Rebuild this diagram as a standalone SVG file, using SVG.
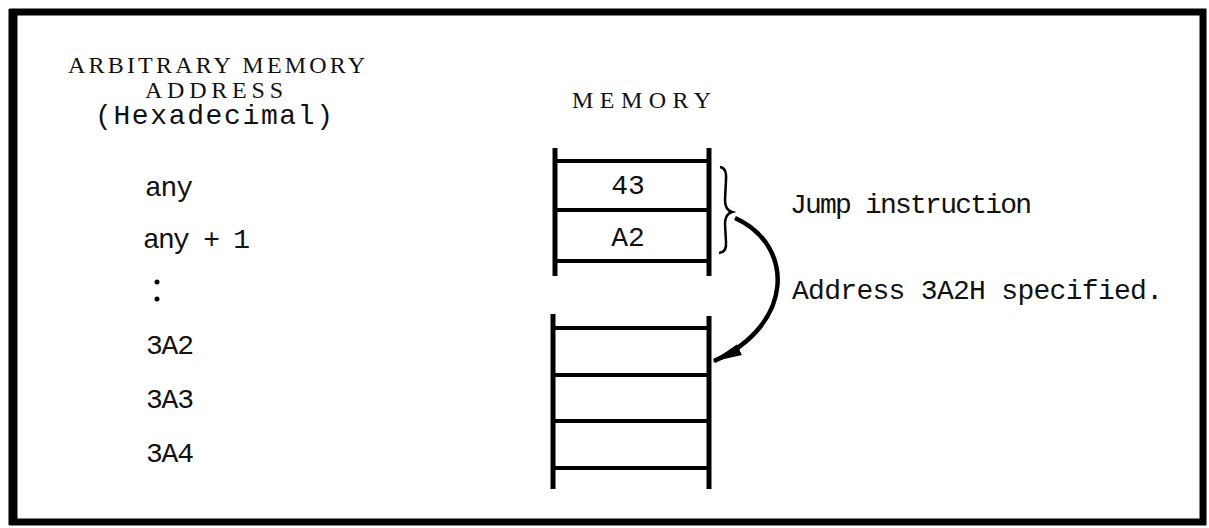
<svg xmlns="http://www.w3.org/2000/svg" width="1209" height="528" viewBox="0 0 1209 528">
<defs>
<style>
.t{font-family:"Liberation Mono","DejaVu Sans Mono",monospace;font-size:28px;fill:#111}
.h{font-family:"Liberation Serif","DejaVu Serif",serif;font-size:24px;fill:#111}
.v{stroke:#000;stroke-width:5;fill:none}
.r{stroke:#000;stroke-width:4;fill:none}
</style>
<marker id="ah" viewBox="0 0 30 12" refX="28" refY="6" markerWidth="30" markerHeight="12" markerUnits="userSpaceOnUse" orient="auto">
<path d="M0,0 L30,6 L0,12 Z" fill="#000"/>
</marker>
</defs>
<rect width="1209" height="528" fill="#fff"/>
<rect x="13" y="12" width="1190" height="510" fill="none" stroke="#000" stroke-width="7"/>
<line x1="13" y1="9" x2="13" y2="525" stroke="#000" stroke-width="9"/>

<g id="address-header">
<text class="h" x="68" y="73" textLength="297">ARBITRARY MEMORY</text>
<text class="h" x="145" y="98" textLength="138">ADDRESS</text>
<text class="t" x="95" y="124" font-size="25" textLength="238">(Hexadecimal)</text>
</g>
<g id="addresses">
<text class="t" x="145" y="196" textLength="48">any</text>
<text class="t" x="143" y="248" textLength="107">any + 1</text>
<circle cx="157" cy="282" r="2.5" fill="#000"/>
<circle cx="157" cy="299" r="2.5" fill="#000"/>
<text class="t" x="146" y="354" textLength="48">3A2</text>
<text class="t" x="146" y="408" textLength="48">3A3</text>
<text class="t" x="146" y="462" textLength="48">3A4</text>
</g>
<g id="memory-title">
<text class="h" x="572" y="108" font-size="26" textLength="139">MEMORY</text>
</g>
<g id="memory-top">
<line class="v" x1="555" y1="148" x2="555" y2="276"/>
<line class="v" x1="709" y1="148" x2="709" y2="276"/>
<line class="r" x1="555" y1="161" x2="709" y2="161"/>
<line class="r" x1="555" y1="210" x2="709" y2="210"/>
<line class="r" x1="555" y1="261" x2="709" y2="261"/>
<text class="t" x="628" y="194" text-anchor="middle">43</text>
<text class="t" x="628" y="246" text-anchor="middle">A2</text>
</g>
<g id="memory-bottom">
<line class="v" x1="553" y1="314" x2="553" y2="489"/>
<line class="v" x1="709" y1="316" x2="709" y2="489"/>
<line class="r" x1="553" y1="328" x2="709" y2="328"/>
<line class="r" x1="553" y1="375" x2="709" y2="375"/>
<line class="r" x1="553" y1="421" x2="709" y2="421"/>
<line class="r" x1="553" y1="468" x2="709" y2="468"/>
</g>
<g id="labels">
<text class="t" x="790" y="213" textLength="242">Jump instruction</text>
<text class="t" x="792" y="299" textLength="371">Address 3A2H specified.</text>
</g>
<g id="connectors">
<path d="M720,167 Q727,168 726,180 L725,200 Q725,210 732,212 Q725,214 725,224 L726,242 Q727,252 719,253" fill="none" stroke="#000" stroke-width="2.5"/>
<path d="M735,218 C795,245 795,325 714,361" fill="none" stroke="#000" stroke-width="4.5" marker-end="url(#ah)"/>
</g>
</svg>
